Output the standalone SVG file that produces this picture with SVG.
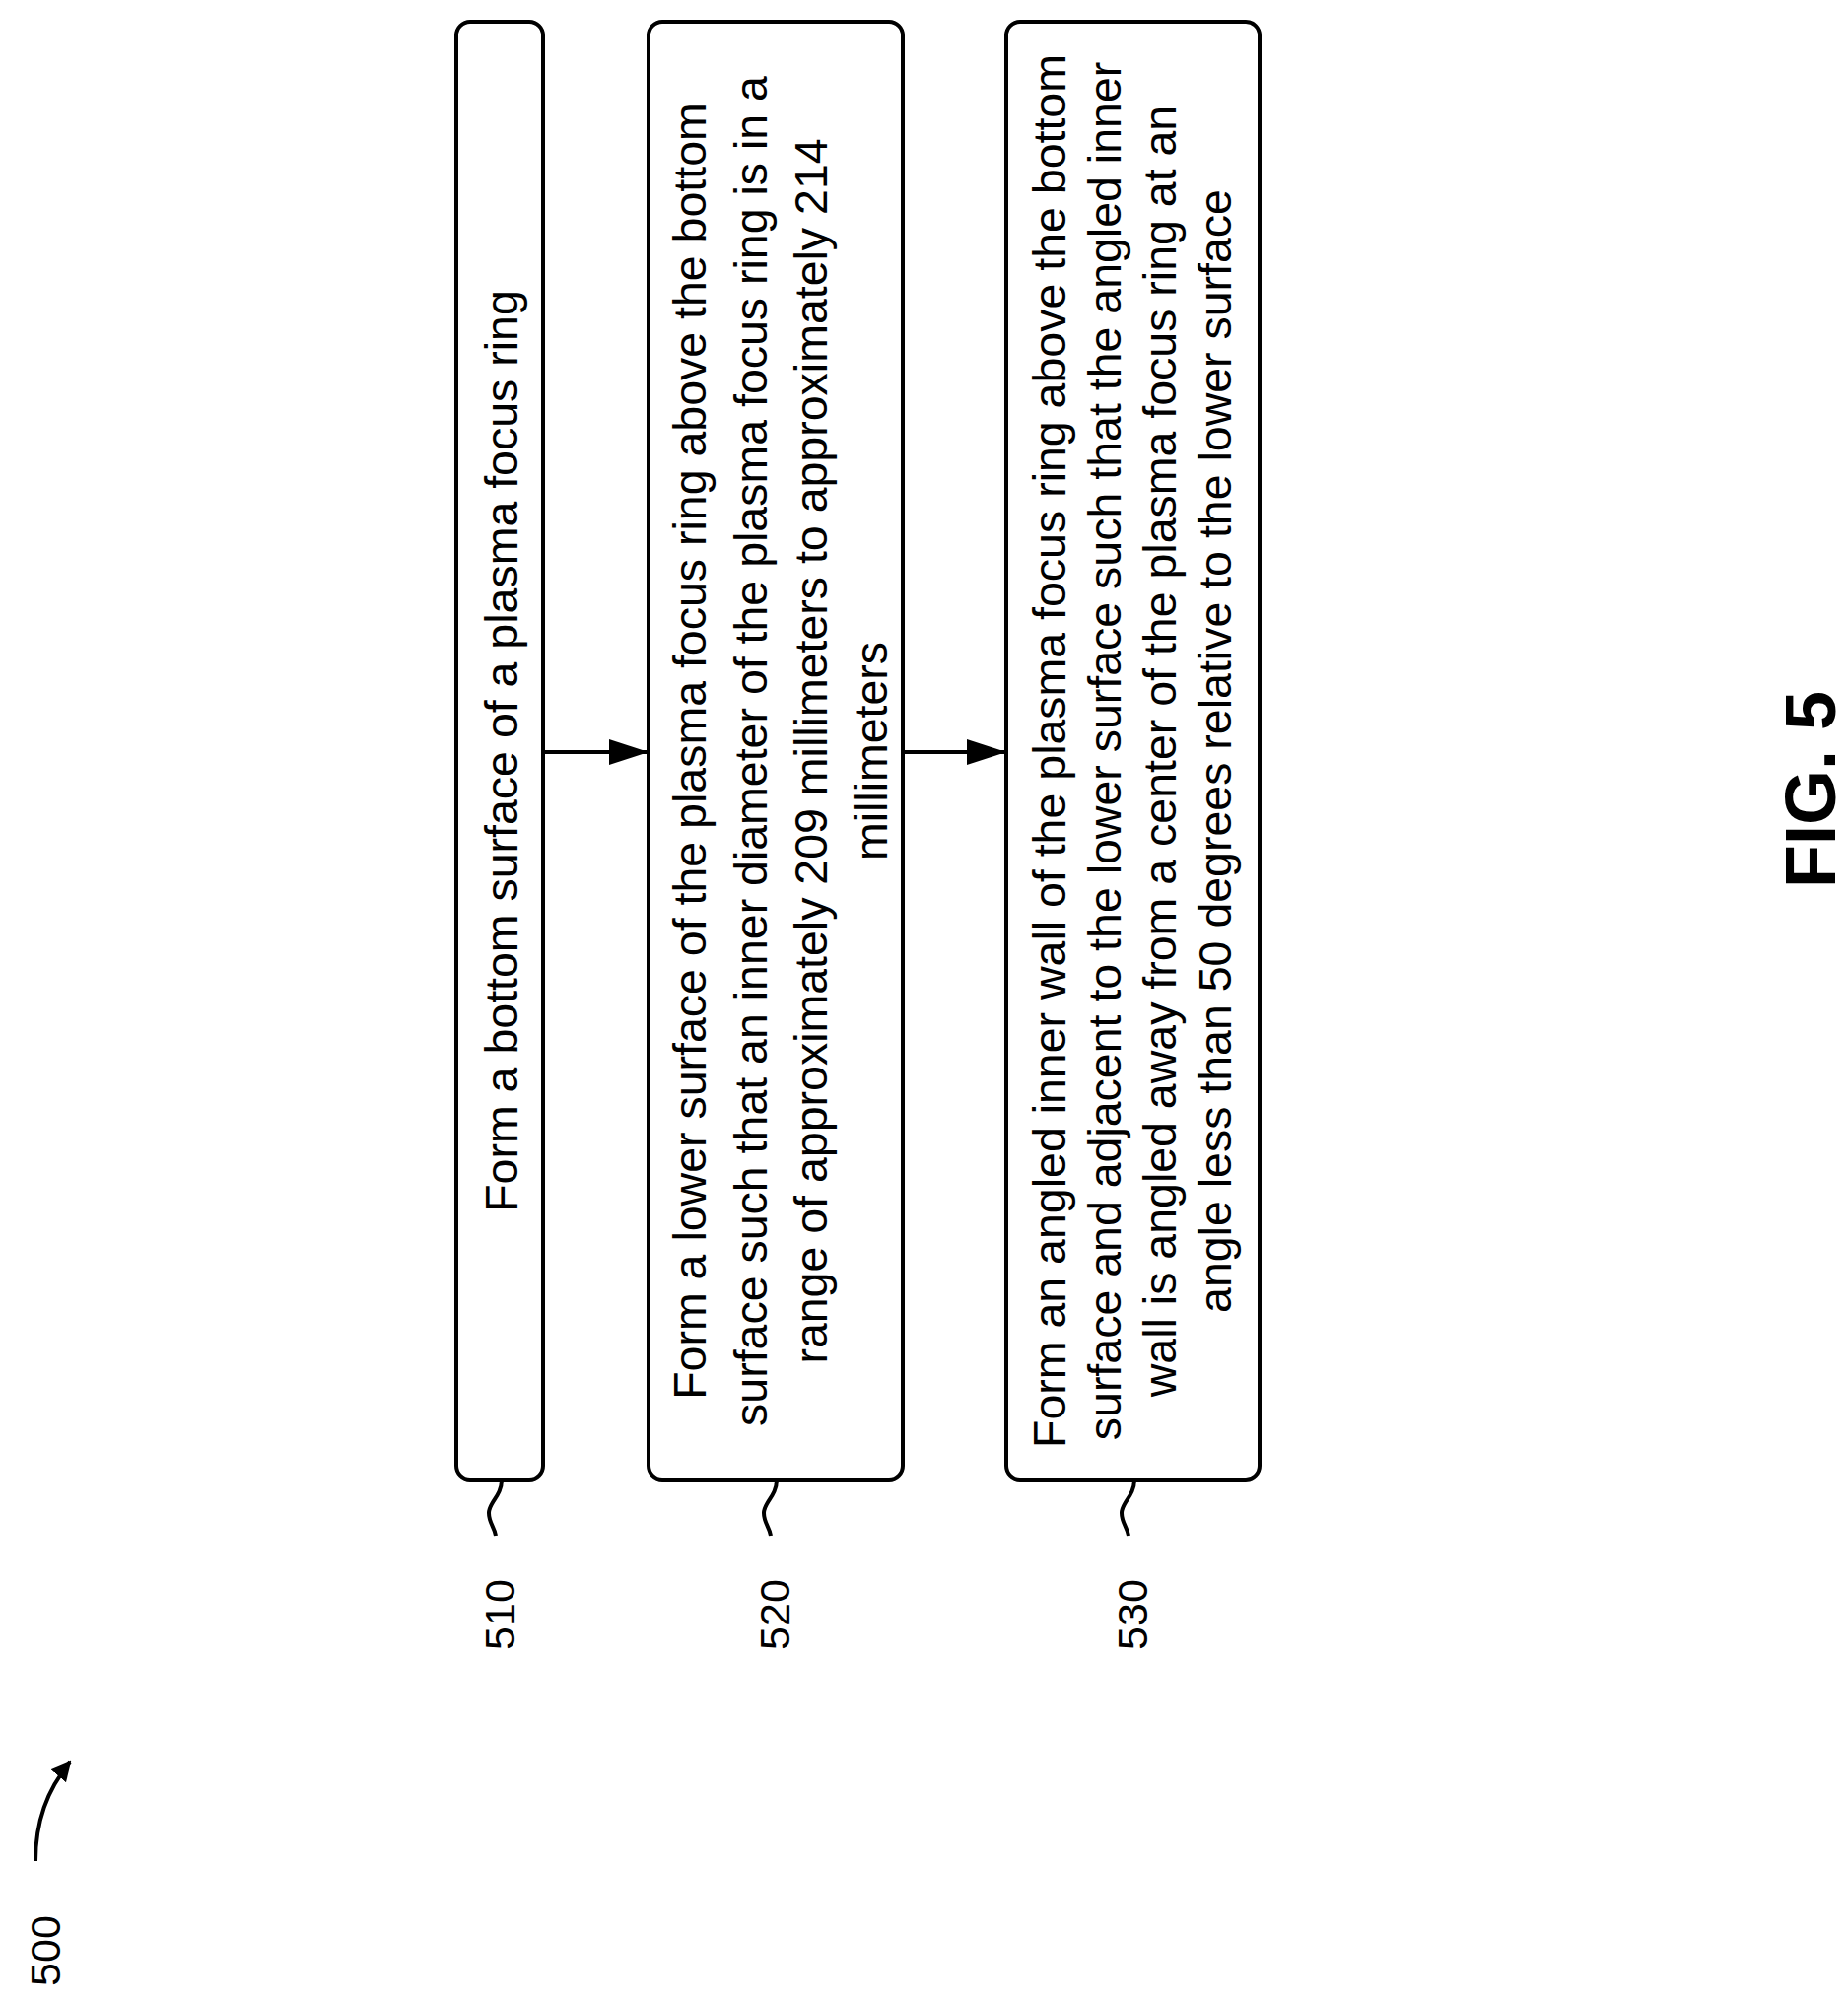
<svg xmlns="http://www.w3.org/2000/svg" width="1875" height="2029" viewBox="0 0 1875 2029">
<style>
.box{fill:#fff;stroke:#000;stroke-width:4}
.t{font-family:"Liberation Sans",Arial,sans-serif;font-size:46.5px;fill:#000;text-anchor:middle}
.l{font-size:43px}
.c{fill:none;stroke:#000;stroke-width:4}
</style>
<defs>
<marker id="ah" viewBox="0 0 40 26" refX="40" refY="13" markerWidth="40" markerHeight="26" orient="auto" markerUnits="userSpaceOnUse"><path d="M0,0L40,13L0,26z"/></marker>
<marker id="ah2" viewBox="0 0 10 10" refX="9" refY="5" markerWidth="20" markerHeight="20" orient="auto" markerUnits="userSpaceOnUse"><path d="M0,0L10,5L0,10z"/></marker>
</defs>
<rect width="1875" height="2029" fill="#fff"/>
<g id="n510"><rect class="box" x="463" y="22" width="88" height="1479" rx="14"/>
<text class="t" transform="translate(525,762) rotate(-90)">Form a bottom surface of a plasma focus ring</text></g>
<g id="n520"><rect class="box" x="658" y="22" width="258" height="1479" rx="14"/>
<text class="t" transform="translate(716,762) rotate(-90)">Form a lower surface of the plasma focus ring above the bottom</text>
<text class="t" transform="translate(778,762) rotate(-90)">surface such that an inner diameter of the plasma focus ring is in a</text>
<text class="t" transform="translate(839,762) rotate(-90)">range of approximately 209 millimeters to approximately 214</text>
<text class="t" transform="translate(900,762) rotate(-90)">millimeters</text></g>
<g id="n530"><rect class="box" x="1021" y="22" width="257" height="1479" rx="14"/>
<text class="t" transform="translate(1081,762) rotate(-90)">Form an angled inner wall of the plasma focus ring above the bottom</text>
<text class="t" transform="translate(1137,762) rotate(-90)">surface and adjacent to the lower surface such that the angled inner</text>
<text class="t" transform="translate(1193,762) rotate(-90)">wall is angled away from a center of the plasma focus ring at an</text>
<text class="t" transform="translate(1249,762) rotate(-90)">angle less than 50 degrees relative to the lower surface</text></g>
<g id="labels">
<text class="t l" transform="translate(522,1638) rotate(-90)">510</text>
<text class="t l" transform="translate(801,1638) rotate(-90)">520</text>
<text class="t l" transform="translate(1164,1638) rotate(-90)">530</text>
<text class="t l" transform="translate(61,1979) rotate(-90)">500</text>
<text class="t" style="font-weight:bold;font-size:72px" transform="translate(1862,801) rotate(-90)">FIG. 5</text>
</g>
<g id="connectors">
<path class="c" marker-end="url(#ah)" d="M551,763H658"/>
<path class="c" marker-end="url(#ah)" d="M916,763H1021"/>
<path class="c" d="M509,1501C509,1518 496,1524 496,1535C496,1545 502,1550 503,1558"/>
<path class="c" d="M788,1501C788,1518 775,1524 775,1535C775,1545 781,1550 782,1558"/>
<path class="c" d="M1151,1501C1151,1518 1138,1524 1138,1535C1138,1545 1144,1550 1145,1558"/>
<path class="c" marker-end="url(#ah2)" d="M36,1888C36,1850 48,1815 71,1788"/>
</g>
</svg>
